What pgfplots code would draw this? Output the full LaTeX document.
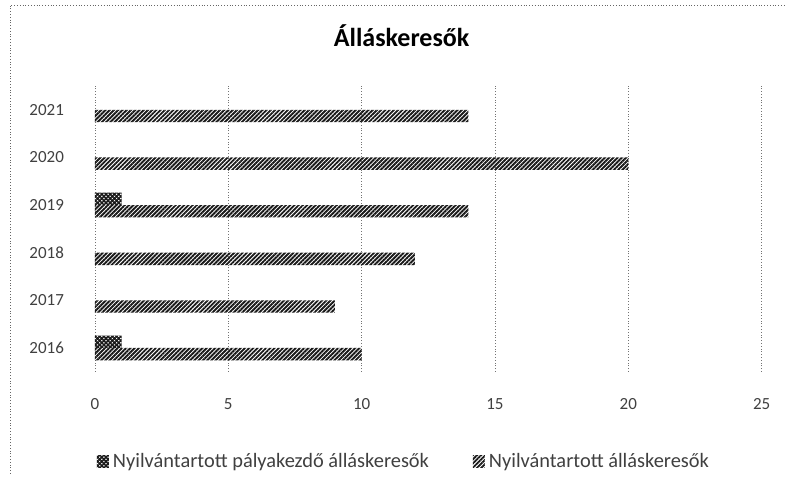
\documentclass[border=0pt]{standalone}
\usepackage{fontspec}
\setmainfont{Carlito}
\usepackage{pgfplots}
\pgfplotsset{compat=1.18}
\usetikzlibrary{patterns.meta}
\begin{document}
\begin{tikzpicture}
\path (0,0) rectangle (392.5pt,237pt);
\draw[densely dotted, black!60] (5pt,0) -- (5pt,234.5pt) -- (392.5pt,234.5pt);
\begin{axis}[
  at={(47.5pt,51pt)}, anchor=south west,
  scale only axis, width=333.5pt, height=143pt,
  xbar, bar width=6.2pt,
  xmin=0, xmax=25, ymin=-0.5, ymax=5.5,
  xtick={0,5,...,25},
  ytick={0,...,5},
  yticklabels={2016,2017,2018,2019,2020,2021},
  /pgf/number format/assume math mode=true,
  tick label style={font=\fontsize{8.5}{10}\selectfont, black!75},
  xticklabel style={yshift=-10pt},
  yticklabel style={xshift=-12pt},
  major tick length=0pt,
  axis line style={draw=none},
  xmajorgrids, major grid style={densely dotted, black!55},
  title={\textbf{Álláskeresők}},
  title style={at={(0.46,1)}, anchor=center, yshift=19pt, font=\fontsize{13}{15}\selectfont},
  legend style={at={(0.465,-0.315)}, anchor=center, legend columns=2, draw=none,
    font=\fontsize{10.2}{12}\selectfont, text=black!75,
    /tikz/every even column/.append style={column sep=20pt}},
  legend image code/.code={\draw[#1, draw=none] (0pt,-3pt) rectangle (6pt,3pt);},
]
\addplot[draw=none, bar shift=3.1pt, pattern={Hatch[angle=45,distance=1.5pt,line width=0.75pt]}, pattern color=black!90]
  coordinates {(1,0) (1,3)};
\addlegendentry{Nyilvántartott pályakezdő álláskeresők}
\addplot[draw=none, bar shift=-3.1pt, pattern={Lines[angle=45,distance=1.5pt,line width=0.95pt]}, pattern color=black!90]
  coordinates {(10,0) (9,1) (12,2) (14,3) (20,4) (14,5)};
\addlegendentry{Nyilvántartott álláskeresők}
\end{axis}
\end{tikzpicture}
\end{document}
